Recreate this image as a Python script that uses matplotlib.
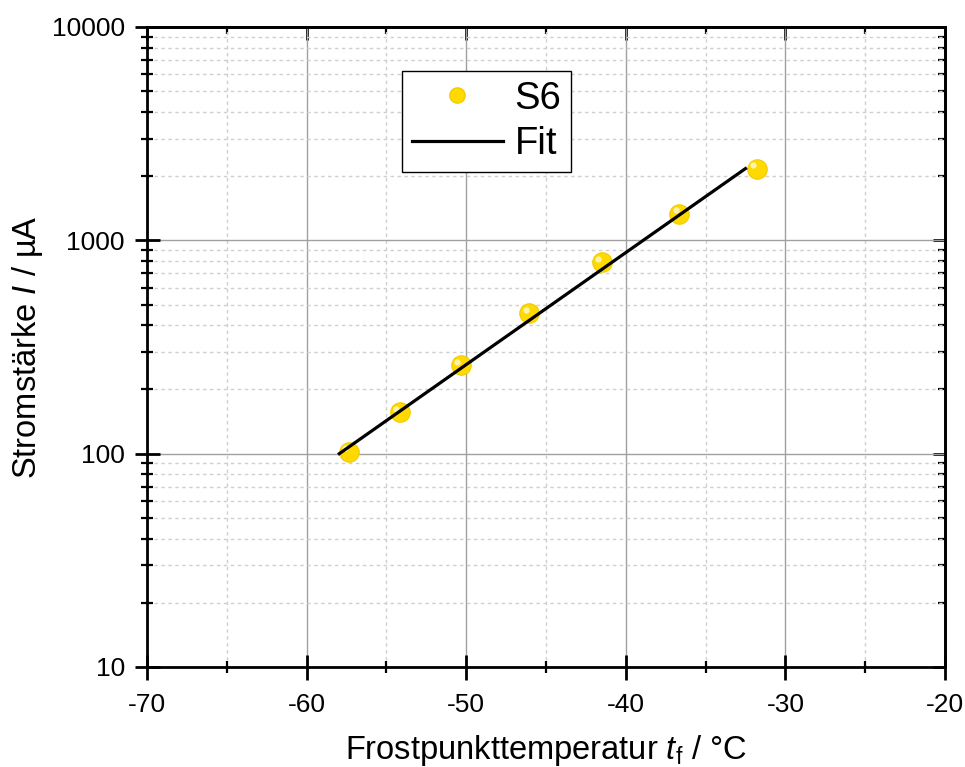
import matplotlib
matplotlib.use("Agg")
import matplotlib.pyplot as plt
import matplotlib.transforms as mtransforms
from matplotlib.ticker import LogLocator, MultipleLocator, NullFormatter, FixedLocator

plt.rcParams["font.family"] = ["Liberation Sans", "DejaVu Sans"]
plt.rcParams["mathtext.fontset"] = "custom"
plt.rcParams["mathtext.rm"] = "Liberation Sans"
plt.rcParams["mathtext.it"] = "Liberation Sans:italic"

# measured values (sample S6)
frost_t = [-57.35, -54.15, -50.35, -46.05, -41.5, -36.65, -31.8]
current = [102, 156, 259, 456, 791, 1334, 2170]
# exponential fit, end points
fit_t = [-57.95, -32.5]
fit_I = [100, 2170]

x_ticks = [-70, -60, -50, -40, -30, -20]
y_ticks = [10, 100, 1000, 10000]

GOLD = "#ffd900"

fig = plt.figure(figsize=(9.65, 7.67), dpi=100)
ax = fig.add_axes([147 / 965, 100 / 767, 798 / 965, 640 / 767])
ax.set_yscale("log")
ax.set_xlim(-70, -20)
ax.set_ylim(10, 10000)

# markers with a small highlight to imitate the shaded spheres
ax.plot(frost_t, current, "o", ms=14, color=GOLD, mec="#f2cc00", mew=0.8, zorder=3)
hl = mtransforms.offset_copy(ax.transData, fig=fig, x=-2.5, y=2.5, units="points")
ax.plot(frost_t, current, "o", ms=4.5, color="#fff6c0", mec="none", alpha=0.9,
        transform=hl, zorder=3.1)
ax.plot(fit_t, fit_I, color="black", lw=2.3, zorder=4)

# legend proxies
h_pts, = ax.plot([], [], "o", ms=11, color=GOLD, mec="#f2cc00", label="S6")
h_fit, = ax.plot([], [], color="black", lw=2.3, label="Fit")
leg = ax.legend(handles=[h_pts, h_fit], loc="upper left",
                bbox_to_anchor=(402 / 965, 1 - 71 / 767), bbox_transform=fig.transFigure,
                borderaxespad=0, fontsize=27.5, frameon=True, fancybox=False,
                edgecolor="black", framealpha=1, handlelength=2.4, handletextpad=0.3,
                labelspacing=0.25, borderpad=0.25)
leg.get_frame().set_linewidth(1.0)

ax.xaxis.set_major_locator(FixedLocator(x_ticks))
ax.xaxis.set_minor_locator(MultipleLocator(5))
ax.yaxis.set_major_locator(FixedLocator(y_ticks))
ax.yaxis.set_minor_locator(LogLocator(base=10, subs=range(2, 10)))
ax.yaxis.set_minor_formatter(NullFormatter())
ax.set_yticklabels([str(v) for v in y_ticks])
ax.set_xticklabels([str(v) for v in x_ticks])

ax.grid(which="major", color="#a0a0a0", lw=1.0, ls="-")
ax.grid(which="minor", color="#cfcfcf", lw=1.0, ls=(0, (2.5, 2.5)))
ax.set_axisbelow(True)

for s in ax.spines.values():
    s.set_linewidth(2.0)
ax.tick_params(axis="x", which="major", direction="inout", length=18, width=2.0,
               labelsize=19, pad=10, top=False)
ax.tick_params(axis="y", which="major", direction="inout", length=18, width=2.0,
               labelsize=19, pad=7, right=False)
ax.tick_params(which="minor", direction="inout", length=8.5, width=1.6,
               top=False, right=False)

# inward ticks on top and right without labels
axt = ax.secondary_xaxis("top")
axt.xaxis.set_major_locator(FixedLocator(x_ticks))
axt.xaxis.set_minor_locator(MultipleLocator(5))
axt.tick_params(which="major", direction="in", length=9, width=2.0, labeltop=False)
axt.tick_params(which="minor", direction="in", length=5, width=1.6)
axt.spines["top"].set_linewidth(2.0)
axr = ax.secondary_yaxis("right")
axr.set_yscale("log")
axr.yaxis.set_major_locator(FixedLocator(y_ticks))
axr.yaxis.set_minor_locator(LogLocator(base=10, subs=range(2, 10)))
axr.tick_params(which="major", direction="in", length=9, width=2.0, labelright=False)
axr.tick_params(which="minor", direction="in", length=5, width=1.6, labelright=False)
axr.spines["right"].set_linewidth(2.0)

ax.set_xlabel(r"Frostpunkttemperatur $\mathit{t}_\mathrm{f}$ / °C", fontsize=23.5, labelpad=11)
ax.set_ylabel(r"Stromstärke $\mathit{I}$ / µA", fontsize=23.5, labelpad=5)

fig.savefig("out.png", dpi=100)
